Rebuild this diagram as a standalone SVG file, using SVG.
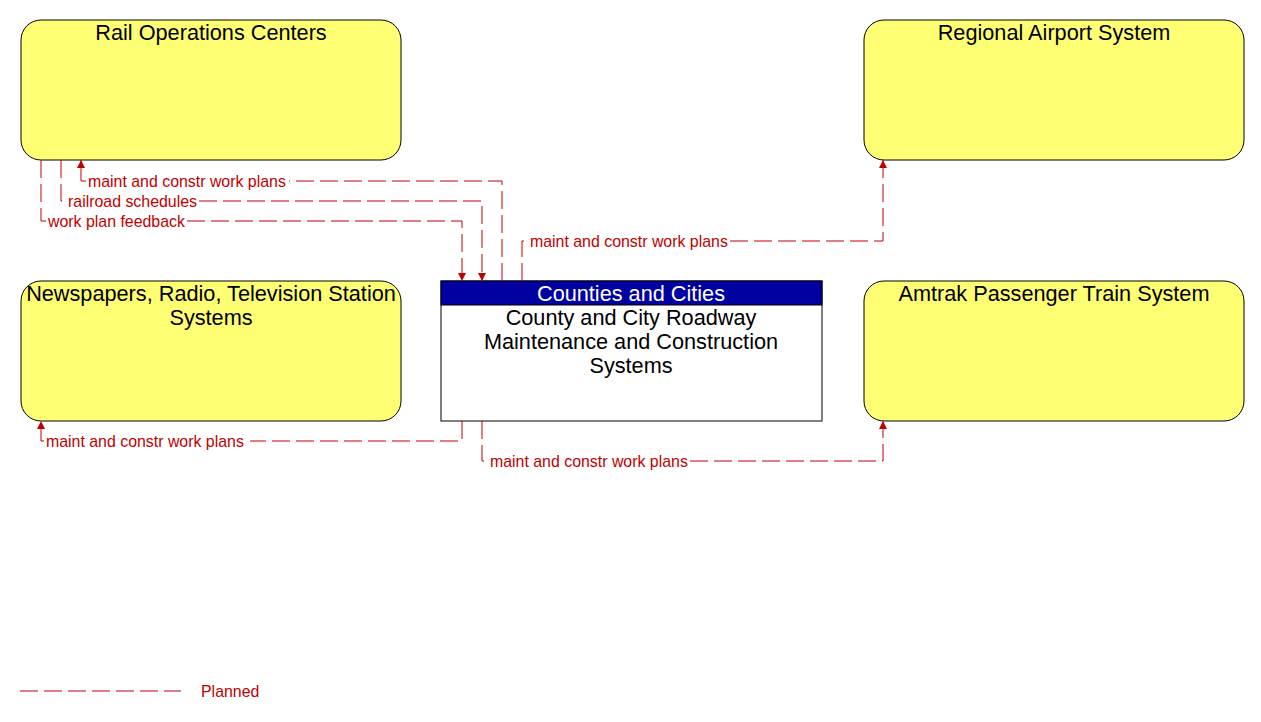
<svg xmlns="http://www.w3.org/2000/svg" width="1261" height="722" viewBox="0 0 1261 722">
<style>
.node{fill:#ffff73;stroke:#000;stroke-width:1}
.title{font-family:"Liberation Sans",Arial,sans-serif;font-size:21.7px;fill:#000;text-anchor:middle}
.hdr{font-family:"Liberation Sans",Arial,sans-serif;font-size:21.7px;fill:#fff;text-anchor:middle}
.flow{fill:none;stroke:#c00000;stroke-width:1;stroke-dasharray:18 6}
.lbl{font-family:"Liberation Sans",Arial,sans-serif;font-size:15.9px;fill:#c00000}
</style>
<defs>
<marker id="arr" viewBox="0 0 10 10" refX="10" refY="5" markerWidth="8" markerHeight="8" markerUnits="userSpaceOnUse" orient="auto">
<path d="M0,0 L10,5 L0,10 Z" fill="#c00000"/>
</marker>
</defs>
<rect width="1261" height="722" fill="#fff"/>
<g id="rail">
<rect class="node" x="21" y="20" width="380" height="140" rx="20" ry="20"/>
<text class="title" x="211" y="40">Rail Operations Centers</text>
</g>
<g id="airport">
<rect class="node" x="864" y="20" width="380" height="140" rx="20" ry="20"/>
<text class="title" x="1054" y="40">Regional Airport System</text>
</g>
<g id="news">
<rect class="node" x="21" y="281" width="380" height="140" rx="20" ry="20"/>
<text class="title" x="211" y="301">Newspapers, Radio, Television Station</text>
<text class="title" x="211" y="325">Systems</text>
</g>
<g id="amtrak">
<rect class="node" x="864" y="281" width="380" height="140" rx="20" ry="20"/>
<text class="title" x="1054" y="301">Amtrak Passenger Train System</text>
</g>
<g id="county">
<rect x="441" y="281" width="381" height="140" fill="#fff" stroke="#000" stroke-width="1"/>
<rect x="441" y="281" width="381" height="24" fill="#0000a0" stroke="#000" stroke-width="1"/>
<text class="hdr" x="631" y="301">Counties and Cities</text>
<text class="title" x="631" y="325">County and City Roadway</text>
<text class="title" x="631" y="349">Maintenance and Construction</text>
<text class="title" x="631" y="373">Systems</text>
</g>
<g id="connectors">
<path class="flow" d="M502,281 V181 H289 M86,181 H81 V160" marker-end="url(#arr)"/>
<text class="lbl" x="88" y="187">maint and constr work plans</text>
<path class="flow" d="M61,160 V201 H66 M199,201 H482 V281" marker-end="url(#arr)"/>
<text class="lbl" x="68" y="207">railroad schedules</text>
<path class="flow" d="M41,160 V221 H46 M187,221 H462 V281" marker-end="url(#arr)"/>
<text class="lbl" x="48" y="227">work plan feedback</text>
<path class="flow" d="M522,281 V241 H528 M730,241 H883 V160" marker-end="url(#arr)"/>
<text class="lbl" x="530" y="247">maint and constr work plans</text>
<path class="flow" d="M462,421 V441 H250 M44,441 H41 V421" marker-end="url(#arr)"/>
<text class="lbl" x="46" y="447">maint and constr work plans</text>
<path class="flow" d="M482,421 V461 H488 M690,461 H883 V421" marker-end="url(#arr)"/>
<text class="lbl" x="490" y="467">maint and constr work plans</text>
</g>
<g id="legend">
<line class="flow" x1="20" y1="691" x2="181" y2="691"/>
<text class="lbl" x="201" y="697">Planned</text>
</g>
</svg>
